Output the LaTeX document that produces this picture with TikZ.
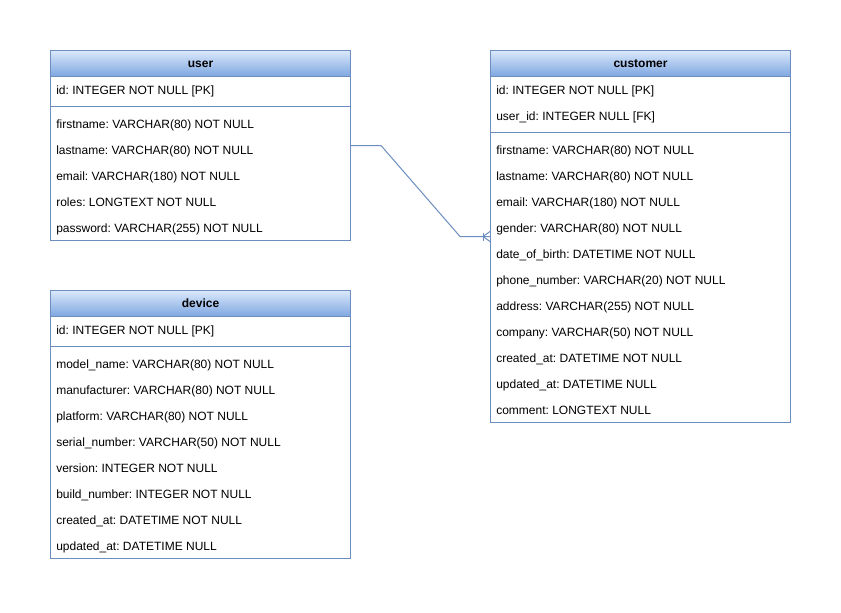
\documentclass[tikz,border=0pt]{standalone}
\usepackage{fontspec}
\setmainfont{Liberation Sans}
\frenchspacing
\usetikzlibrary{calc}
\definecolor{erline}{HTML}{6C8EBF}
\definecolor{erlight}{HTML}{DAE8FC}
\definecolor{erdark}{HTML}{7EA6E0}
\tikzstyle{tablebox} = [rectangle, draw=erline, line width=0.75pt, fill=white, anchor=north west, minimum width=225pt, inner sep=0pt]
\tikzstyle{tablehead} = [rectangle, draw=erline, line width=0.75pt, top color=erlight, bottom color=erdark, anchor=north west, minimum width=225pt, minimum height=19.5pt, inner sep=0pt, text height=6.5pt, text depth=0pt, font=\fontsize{9}{11}\selectfont\bfseries]
\tikzstyle{field} = [anchor=west, inner sep=0pt, text height=6.5pt, text depth=0pt, yshift=-0.75pt, font=\fontsize{9}{11}\selectfont]
\tikzstyle{divider} = [draw=erline, line width=0.75pt]
\tikzstyle{relation} = [draw=erline, line width=0.75pt]

\begin{document}
\begin{tikzpicture}[x=0.75pt, y=-0.75pt]
    \fill [white] (0,0) rectangle (841,612);
    \useasboundingbox (0,0) rectangle (841,612);

    % user table
    \node (userbox) [tablebox, minimum height=142.5pt] at (50,50) {};
    \node (userhead) [tablehead] at (50,50) {user};
    \node (userid) [field] at (56,89) {id: INTEGER NOT NULL [PK]};
    \draw [divider] (50,106) -- (350,106);
    \foreach \txt [count=\i] in {firstname: VARCHAR(80) NOT NULL, lastname: VARCHAR(80) NOT NULL, email: VARCHAR(180) NOT NULL, roles: LONGTEXT NOT NULL, password: VARCHAR(255) NOT NULL}
        \node (user\i) [field] at (56,97+26*\i) {\txt};

    % customer table
    \node (custbox) [tablebox, minimum height=279pt] at (490,50) {};
    \node (custhead) [tablehead] at (490,50) {customer};
    \node (custid) [field] at (496,89) {id: INTEGER NOT NULL [PK]};
    \node (custuid) [field] at (496,115) {user\_id: INTEGER NULL [FK]};
    \draw [divider] (490,132) -- (790,132);
    \foreach \txt [count=\i] in {firstname: VARCHAR(80) NOT NULL, lastname: VARCHAR(80) NOT NULL, email: VARCHAR(180) NOT NULL, gender: VARCHAR(80) NOT NULL, date\_of\_birth: DATETIME NOT NULL, phone\_number: VARCHAR(20) NOT NULL, address: VARCHAR(255) NOT NULL, company: VARCHAR(50) NOT NULL, created\_at: DATETIME NOT NULL, updated\_at: DATETIME NULL, comment: LONGTEXT NULL}
        \node (cust\i) [field] at (496,123+26*\i) {\txt};

    % device table
    \node (devbox) [tablebox, minimum height=201pt] at (50,290) {};
    \node (devhead) [tablehead] at (50,290) {device};
    \node (devid) [field] at (56,329) {id: INTEGER NOT NULL [PK]};
    \draw [divider] (50,346) -- (350,346);
    \foreach \txt [count=\i] in {model\_name: VARCHAR(80) NOT NULL, manufacturer: VARCHAR(80) NOT NULL, platform: VARCHAR(80) NOT NULL, serial\_number: VARCHAR(50) NOT NULL, version: INTEGER NOT NULL, build\_number: INTEGER NOT NULL, created\_at: DATETIME NOT NULL, updated\_at: DATETIME NULL}
        \node (dev\i) [field] at (56,337+26*\i) {\txt};

    % one user -> many customers
    \draw [relation] (userbox.east) -- ++(30,0) -- ([xshift=-22.5pt]custbox.west) -- (custbox.west);
    \draw [relation] ([xshift=-5.25pt, yshift=3pt]custbox.west) -- ([xshift=-5.25pt, yshift=-3pt]custbox.west);
    \draw [relation] ([yshift=3.75pt]custbox.west) -- ([xshift=-5.25pt]custbox.west) -- ([yshift=-3.75pt]custbox.west);
\end{tikzpicture}
\end{document}
